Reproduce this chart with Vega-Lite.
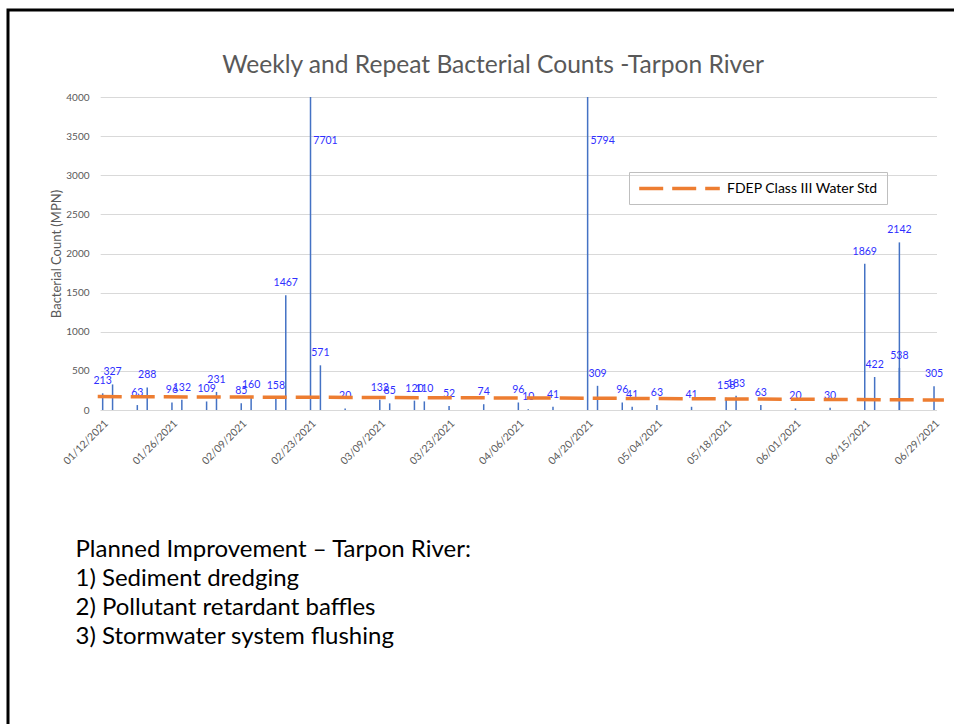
{
  "$schema": "https://vega.github.io/schema/vega-lite/v6.json",
  "width": 946,
  "height": 714,
  "padding": {"left": 8, "top": 10, "right": 0, "bottom": 0},
  "autosize": {"type": "none"},
  "background": "white",
  "config": {
    "font": "Lato",
    "view": {"stroke": "black", "strokeWidth": 3, "strokeDash": [946, 1660, 714]}
  },
  "title": {
    "text": "Weekly and Repeat Bacterial Counts -Tarpon River",
    "fontSize": 24.6,
    "fontWeight": "normal",
    "color": "#595959",
    "frame": "group",
    "anchor": "middle",
    "offset": -69,
    "dx": 12
  },
  "datasets": {
    "counts": [
      {"date": "2021-01-12", "count": 213},
      {"date": "2021-01-14", "count": 327},
      {"date": "2021-01-19", "count": 63},
      {"date": "2021-01-21", "count": 288},
      {"date": "2021-01-26", "count": 96},
      {"date": "2021-01-28", "count": 132},
      {"date": "2021-02-02", "count": 109},
      {"date": "2021-02-04", "count": 231},
      {"date": "2021-02-09", "count": 85},
      {"date": "2021-02-11", "count": 160},
      {"date": "2021-02-16", "count": 158},
      {"date": "2021-02-18", "count": 1467},
      {"date": "2021-02-23", "count": 7701},
      {"date": "2021-02-25", "count": 571},
      {"date": "2021-03-02", "count": 20},
      {"date": "2021-03-09", "count": 132},
      {"date": "2021-03-11", "count": 85},
      {"date": "2021-03-16", "count": 120},
      {"date": "2021-03-18", "count": 110},
      {"date": "2021-03-23", "count": 52},
      {"date": "2021-03-30", "count": 74},
      {"date": "2021-04-06", "count": 96},
      {"date": "2021-04-08", "count": 10},
      {"date": "2021-04-13", "count": 41},
      {"date": "2021-04-20", "count": 5794},
      {"date": "2021-04-22", "count": 309},
      {"date": "2021-04-27", "count": 96},
      {"date": "2021-04-29", "count": 41},
      {"date": "2021-05-04", "count": 63},
      {"date": "2021-05-11", "count": 41},
      {"date": "2021-05-18", "count": 158},
      {"date": "2021-05-20", "count": 183},
      {"date": "2021-05-25", "count": 63},
      {"date": "2021-06-01", "count": 20},
      {"date": "2021-06-08", "count": 30},
      {"date": "2021-06-15", "count": 1869},
      {"date": "2021-06-17", "count": 422},
      {"date": "2021-06-22", "count": 2142},
      {"date": "2021-06-22", "count": 538},
      {"date": "2021-06-29", "count": 305}
    ],
    "standard": [
      {"date": "2021-01-11", "std": 171},
      {"date": "2021-04-20", "std": 151},
      {"date": "2021-07-01", "std": 128}
    ]
  },
  "layer": [
    {
      "data": {"name": "counts"},
      "mark": {"type": "rule", "color": "#4472C4", "strokeWidth": 1.5},
      "encoding": {
        "x": {
          "field": "date",
          "type": "temporal",
          "scale": {
            "type": "utc",
            "domain": [
              {"year": 2021, "month": 1, "date": 11, "hours": 12, "utc": true},
              {"year": 2021, "month": 6, "date": 29, "hours": 12, "utc": true}
            ],
            "range": [92.2, 928.5]
          },
          "axis": {
            "title": ["Planned Improvement \u2013 Tarpon River:", "1)  Sediment dredging", "2)  Pollutant retardant baffles", "3)  Stormwater system flushing"],
            "titleFontSize": 24,
            "titleFontWeight": "normal",
            "titleColor": "#000000",
            "titleAnchor": "start",
            "titleAlign": "left",
            "titleBaseline": "alphabetic",
            "titleX": 67,
            "titleY": 146,
            "titleLineHeight": 29.3,
            "values": [
              {"year": 2021, "month": 1, "date": 12, "utc": true},
              {"year": 2021, "month": 1, "date": 19, "utc": true},
              {"year": 2021, "month": 1, "date": 26, "utc": true},
              {"year": 2021, "month": 2, "date": 2, "utc": true},
              {"year": 2021, "month": 2, "date": 9, "utc": true},
              {"year": 2021, "month": 2, "date": 16, "utc": true},
              {"year": 2021, "month": 2, "date": 23, "utc": true},
              {"year": 2021, "month": 3, "date": 2, "utc": true},
              {"year": 2021, "month": 3, "date": 9, "utc": true},
              {"year": 2021, "month": 3, "date": 16, "utc": true},
              {"year": 2021, "month": 3, "date": 23, "utc": true},
              {"year": 2021, "month": 3, "date": 30, "utc": true},
              {"year": 2021, "month": 4, "date": 6, "utc": true},
              {"year": 2021, "month": 4, "date": 13, "utc": true},
              {"year": 2021, "month": 4, "date": 20, "utc": true},
              {"year": 2021, "month": 4, "date": 27, "utc": true},
              {"year": 2021, "month": 5, "date": 4, "utc": true},
              {"year": 2021, "month": 5, "date": 11, "utc": true},
              {"year": 2021, "month": 5, "date": 18, "utc": true},
              {"year": 2021, "month": 5, "date": 25, "utc": true},
              {"year": 2021, "month": 6, "date": 1, "utc": true},
              {"year": 2021, "month": 6, "date": 8, "utc": true},
              {"year": 2021, "month": 6, "date": 15, "utc": true},
              {"year": 2021, "month": 6, "date": 22, "utc": true},
              {"year": 2021, "month": 6, "date": 29, "utc": true}
            ],
            "labelExpr": "utcFormat(datum.value, '%m/%d/%Y')",
            "labelAngle": -45,
            "labelOverlap": false,
            "labelFontSize": 10.5,
            "labelColor": "#595959",
            "labelPadding": 8,
            "ticks": false,
            "grid": false,
            "domainColor": "#D9D9D9",
            "domainWidth": 1,
            "offset": -314
          }
        },
        "y": {
          "field": "count",
          "type": "quantitative",
          "scale": {"domain": [0, 4000], "range": [400, 87], "clamp": true},
          "axis": {
            "title": "Bacterial Count (MPN)",
            "titleFontSize": 13,
            "titleFontWeight": "normal",
            "titleColor": "#595959",
            "titlePadding": 2,
            "values": [0, 500, 1000, 1500, 2000, 2500, 3000, 3500, 4000],
            "format": "d",
            "labelFontSize": 10,
            "labelColor": "#595959",
            "labelPadding": 11,
            "domain": false,
            "ticks": false,
            "grid": true,
            "gridColor": "#D9D9D9",
            "gridWidth": 1,
            "offset": -92
          }
        },
        "y2": {"datum": 0}
      }
    },
    {
      "data": {"name": "counts"},
      "transform": [{"filter": "datum.count <= 4000"}],
      "mark": {"type": "text", "color": "#2F2FFF", "fontSize": 10.5, "baseline": "middle", "dy": -12},
      "encoding": {
        "x": {"field": "date", "type": "temporal"},
        "y": {"field": "count", "type": "quantitative"},
        "text": {"field": "count", "type": "quantitative", "format": "d"}
      }
    },
    {
      "data": {"name": "counts"},
      "transform": [{"filter": "datum.count > 4000"}],
      "mark": {"type": "text", "color": "#2F2FFF", "fontSize": 10.5, "baseline": "middle", "dx": 15, "dy": 44},
      "encoding": {
        "x": {"field": "date", "type": "temporal"},
        "y": {"field": "count", "type": "quantitative"},
        "text": {"field": "count", "type": "quantitative", "format": "d"}
      }
    },
    {
      "data": {"name": "standard"},
      "mark": {"type": "line", "strokeWidth": 3.5, "strokeDash": [24, 9]},
      "encoding": {
        "x": {"field": "date", "type": "temporal"},
        "y": {"field": "std", "type": "quantitative"},
        "color": {
          "datum": "FDEP Class III Water Std",
          "scale": {"range": ["#ED7D31"]},
          "legend": {
            "title": null,
            "orient": "none",
            "legendX": 621,
            "legendY": 162,
            "symbolType": "M-6.2,0H6.2",
            "symbolSize": 169,
            "symbolOffset": 34,
            "symbolStrokeWidth": 3.5,
            "symbolDash": [24, 9],
            "labelFontSize": 14,
            "labelColor": "#000000",
            "labelOffset": 39,
            "labelLimit": 500,
            "strokeColor": "#BFBFBF",
            "padding": 8
          }
        }
      }
    }
  ]
}
